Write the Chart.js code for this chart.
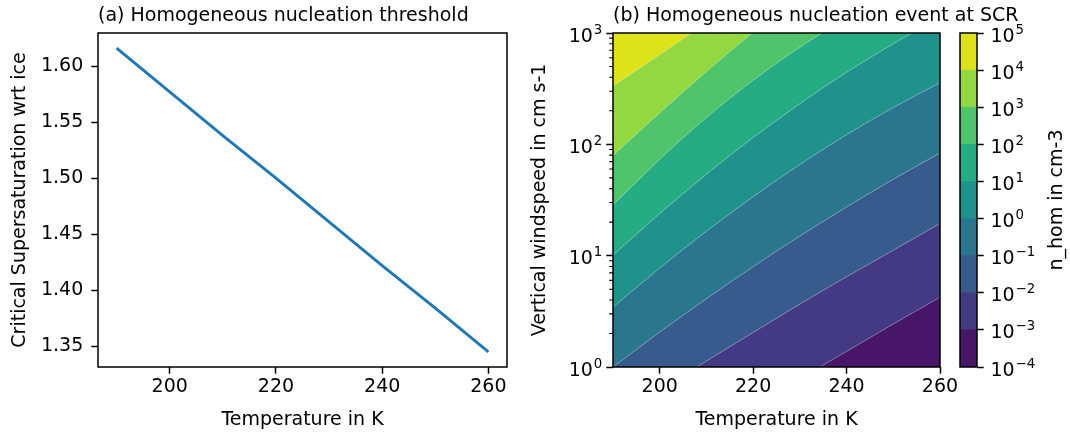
<!DOCTYPE html>
<html>
<head>
<meta charset="utf-8">
<script src="https://cdn.jsdelivr.net/npm/chart.js"></script>
<style>
  body { margin: 0; background: #fff; }
  #wrap { position: relative; width: 1070px; height: 435px; }
  canvas { position: absolute; top: 0; }
</style>
</head>
<body>
<div id="wrap">
  <canvas id="chartA" width="530" height="435" style="left:0px"></canvas>
  <canvas id="chartB" width="550" height="435" style="left:520px"></canvas>
  <canvas id="chartC" width="130" height="435" style="left:940px"></canvas>
</div>
<script>
// (a) critical supersaturation wrt ice vs temperature
const tempA = [190, 200, 210, 220, 230, 240, 250, 260];
const sCrit = [1.616, 1.577, 1.538, 1.500, 1.461, 1.422, 1.384, 1.345];
const tempTicks = [200, 220, 240, 260];
const sTicks = [1.35, 1.40, 1.45, 1.50, 1.55, 1.60];

// (b) contour lines of n_hom: windspeed (cm s-1) of each level line at tempB,
// read off the plot and carried past the box edges so every line spans 190..260 K
const tempB = [190, 200, 210, 220, 230, 240, 250, 260];
const nLevels = [-4, -3, -2, -1, 0, 1, 2, 3, 4, 5];   // log10(n_hom) of the levels
const w_m3 = [0.083, 0.145, 0.257, 0.447, 0.785, 1.38, 2.43, 4.23];
const w_m2 = [0.331, 0.617, 1.13, 2.04, 3.67, 6.46, 11.2, 19.5];
const w_m1 = [1.0, 2.06, 4.11, 7.97, 15.0, 27.4, 48.5, 83.6];
const w_0 = [3.44, 7.74, 16.6, 33.9, 65.8, 122, 214, 358];
const w_1 = [10.1, 23.9, 54.0, 115, 232, 444, 802, 1371];
const w_2 = [28.5, 73.5, 174, 376, 746, 1358, 2317, 3467];
const w_3 = [79.4, 192, 451, 1023, 2249, 4786, 9772, 19500];
const w_4 = [334, 641, 1230, 2360, 4520, 8670, 16600, 32000];
const windTicks = [1, 10, 100, 1000];
const bandColors = ['#481668', '#443983', '#375b8d', '#2a768e', '#20928c', '#25ac82', '#50c46a', '#93d741', '#dde318'];

Chart.defaults.font.family = "'DejaVu Sans', sans-serif";
Chart.defaults.font.size = 19;
Chart.defaults.color = '#000';
Chart.defaults.animation = false;

// "10" with a raised, smaller exponent, like matplotlib mathtext
function drawPow(ctx, v, x, y, align) {
  const base = '10';
  const exp = String(Math.round(Math.log10(v))).replace('-', '\u2212');
  ctx.font = "19px 'DejaVu Sans'";
  const wb = ctx.measureText(base).width;
  ctx.font = "13.3px 'DejaVu Sans'";
  const we = ctx.measureText(exp).width;
  const x0 = align === 'right' ? x - wb - we - 1 : x;
  ctx.textAlign = 'left';
  ctx.textBaseline = 'alphabetic';
  ctx.font = "19px 'DejaVu Sans'";
  ctx.fillText(base, x0, y + 8.5);
  ctx.font = "13.3px 'DejaVu Sans'";
  ctx.fillText(exp, x0 + wb + 1, y + 0.5);
}

function powLabels(values, side) {
  return {
    id: 'powLabels',
    afterDraw(chart) {
      const ctx = chart.ctx, y = chart.scales.y, a = chart.chartArea;
      ctx.save();
      ctx.fillStyle = '#000';
      values.forEach(v => {
        const py = y.getPixelForValue(v);
        if (side === 'left') drawPow(ctx, v, a.left - 10.7, py, 'right');
        else drawPow(ctx, v, a.right + 13.4, py, 'left');
      });
      ctx.restore();
    }
  };
}

// box around the plot area, like matplotlib spines
const frame = {
  id: 'frame',
  afterDatasetsDraw(chart) {
    const a = chart.chartArea, ctx = chart.ctx;
    ctx.save();
    ctx.lineWidth = 1.5;
    ctx.strokeStyle = '#000';
    ctx.strokeRect(a.left, a.top, a.right - a.left, a.bottom - a.top);
    ctx.restore();
  }
};

function panelTitle(text) {
  return {
    id: 'panelTitle',
    afterDraw(chart) {
      const ctx = chart.ctx;
      ctx.save();
      ctx.font = "19px 'DejaVu Sans'";
      ctx.fillStyle = '#000';
      ctx.textAlign = 'left';
      ctx.textBaseline = 'alphabetic';
      ctx.fillText(text, chart.chartArea.left, 21);
      ctx.restore();
    }
  };
}

const tickGrid = { drawOnChartArea: false, drawTicks: true, tickLength: 6.7, tickWidth: 1.5, tickColor: '#000' };

// ---- (a) line chart
new Chart(document.getElementById('chartA'), {
  type: 'line',
  data: {
    datasets: [{
      data: tempA.map((t, i) => ({x: t, y: sCrit[i]})),
      borderColor: '#1f77b4',
      borderWidth: 2.9,
      pointRadius: 0,
      tension: 0,
      fill: false
    }]
  },
  options: {
    responsive: false,
    layout: { padding: { top: 33, right: 23, left: 0, bottom: 0 } },
    plugins: { legend: { display: false }, tooltip: { enabled: false } },
    scales: {
      x: {
        type: 'linear', min: 186.5, max: 263.5, bounds: 'data',
        grid: tickGrid, border: { display: false },
        ticks: { padding: 2, maxRotation: 0, autoSkip: false, callback: v => String(v) },
        afterBuildTicks: s => { s.ticks = tempTicks.map(v => ({value: v})); },
        afterFit: s => { s.height = 68; },
        title: { display: true, text: 'Temperature in K', padding: { top: 0, bottom: 4 } }
      },
      y: {
        type: 'linear', min: 1.3314, max: 1.6296, bounds: 'data',
        grid: tickGrid, border: { display: false },
        ticks: { padding: 8, autoSkip: false, callback: v => v.toFixed(2) },
        afterBuildTicks: s => { s.ticks = sTicks.map(v => ({value: v})); },
        afterFit: s => { s.width = 98; },
        title: { display: true, text: 'Critical Supersaturation wrt ice', padding: { top: 8.5, bottom: 0 } }
      }
    }
  },
  plugins: [frame, panelTitle('(a) Homogeneous nucleation threshold')]
});

// ---- (b) filled contours, one band between each pair of level lines
const contourLines = [w_m3, w_m2, w_m1, w_0, w_1, w_2, w_3, w_4];
const toPts = ws => ws.map((w, i) => ({x: tempB[i], y: w}));
const dsB = contourLines.map((ws, i) => ({
  data: toPts(ws),
  backgroundColor: bandColors[i],
  fill: i === 0 ? 'start' : '-1',
  borderColor: 'rgba(255,255,255,0.3)',
  borderWidth: 0.7,
  pointRadius: 0,
  cubicInterpolationMode: 'monotone'
}));
dsB.push({
  data: toPts(w_4),
  backgroundColor: bandColors[8],
  fill: 'end',
  borderColor: 'rgba(0,0,0,0)',
  borderWidth: 0.1,
  pointRadius: 0,
  cubicInterpolationMode: 'monotone'
});

const minorTicks = {
  id: 'minorTicks',
  afterDraw(chart) {
    const y = chart.scales.y, x0 = chart.chartArea.left, ctx = chart.ctx;
    ctx.save();
    ctx.strokeStyle = '#000';
    ctx.lineWidth = 1.1;
    ctx.beginPath();
    for (let k = 0; k < 3; k++) {
      for (let m = 2; m <= 9; m++) {
        const py = y.getPixelForValue(m * Math.pow(10, k));
        ctx.moveTo(x0, py);
        ctx.lineTo(x0 - 3.8, py);
      }
    }
    ctx.stroke();
    ctx.restore();
  }
};

new Chart(document.getElementById('chartB'), {
  type: 'line',
  data: { datasets: dsB },
  options: {
    responsive: false,
    layout: { padding: { top: 33, right: 130, left: 0, bottom: 0 } },
    plugins: { legend: { display: false }, tooltip: { enabled: false } },
    scales: {
      x: {
        type: 'linear', min: 190, max: 260, bounds: 'data',
        grid: tickGrid, border: { display: false },
        ticks: { padding: 2, maxRotation: 0, autoSkip: false, callback: v => String(v) },
        afterBuildTicks: s => { s.ticks = tempTicks.map(v => ({value: v})); },
        afterFit: s => { s.height = 68; },
        title: { display: true, text: 'Temperature in K', padding: { top: 0, bottom: 4 } }
      },
      y: {
        type: 'logarithmic', min: 1, max: 1000,
        grid: tickGrid, border: { display: false },
        ticks: { display: false },
        afterBuildTicks: s => { s.ticks = windTicks.map(v => ({value: v})); },
        afterFit: s => { s.width = 93; },
        title: { display: true, text: 'Vertical windspeed in cm s-1', padding: { top: 9, bottom: 0 } }
      }
    }
  },
  plugins: [frame, minorTicks, powLabels(windTicks, 'left'), panelTitle('(b) Homogeneous nucleation event at SCR')]
});

// ---- colorbar
const levelValues = nLevels.map(k => Math.pow(10, k));
const cbarLabel = {
  id: 'cbarLabel',
  afterDraw(chart) {
    const ctx = chart.ctx, a = chart.chartArea;
    ctx.save();
    ctx.font = "19px 'DejaVu Sans'";
    ctx.fillStyle = '#000';
    ctx.textAlign = 'center';
    ctx.textBaseline = 'alphabetic';
    ctx.translate(122, (a.top + a.bottom) / 2);
    ctx.rotate(-Math.PI / 2);
    ctx.fillText('n_hom in cm-3', 0, 0);
    ctx.restore();
  }
};

new Chart(document.getElementById('chartC'), {
  type: 'bar',
  data: {
    labels: ['n_hom'],
    datasets: bandColors.map((c, i) => ({
      data: [[levelValues[i], levelValues[i + 1]]],
      backgroundColor: c,
      borderWidth: 0,
      barPercentage: 1,
      categoryPercentage: 1,
      grouped: false
    }))
  },
  options: {
    responsive: false,
    layout: { padding: { top: 33, bottom: 68, left: 20, right: 0 } },
    plugins: { legend: { display: false }, tooltip: { enabled: false } },
    scales: {
      x: { display: false },
      y: {
        type: 'logarithmic', position: 'right', min: 1e-4, max: 1e5,
        grid: tickGrid, border: { display: false },
        ticks: { display: false },
        afterBuildTicks: s => { s.ticks = levelValues.map(v => ({value: v})); },
        afterFit: s => { s.width = 93; }
      }
    }
  },
  plugins: [frame, powLabels(levelValues, 'right'), cbarLabel]
});
</script>
</body>
</html>
